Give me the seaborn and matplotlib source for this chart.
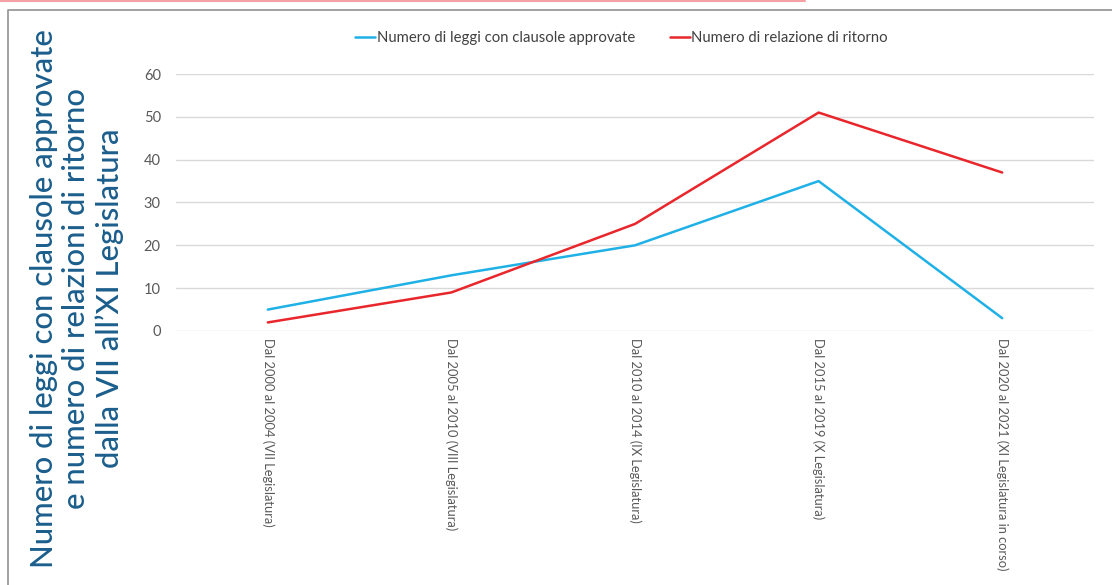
import matplotlib
matplotlib.use("Agg")
import matplotlib.pyplot as plt
from matplotlib.lines import Line2D
import pandas as pd
import seaborn as sns

# Legislative periods (x categories)
periodi = [
    "Dal 2000 al 2004 (VII Legislatura)",
    "Dal 2005 al 2010 (VIII Legislatura)",
    "Dal 2010 al 2014 (IX Legislatura)",
    "Dal 2015 al 2019 (X Legislatura)",
    "Dal 2020 al 2021 (XI Legislatura in corso)",
]
leggi_con_clausole = [5, 13, 20, 35, 3]
relazioni_di_ritorno = [2, 9, 25, 51, 37]

serie_leggi = "Numero di leggi con clausole approvate"
serie_relazioni = "Numero di relazione di ritorno"
y_ticks = [0, 10, 20, 30, 40, 50, 60]

titolo = ("Numero di leggi con clausole approvate\n"
          "e numero di relazioni di ritorno\n"
          "dalla VII all\u2019XI Legislatura")

df = pd.DataFrame({
    "periodo": periodi * 2,
    "valore": leggi_con_clausole + relazioni_di_ritorno,
    "serie": [serie_leggi] * len(periodi) + [serie_relazioni] * len(periodi),
})

sns.set_theme(style="white")
plt.rcParams["font.family"] = ["Lato", "DejaVu Sans"]

fig = plt.figure(figsize=(11.12, 5.85), dpi=100)
ax = fig.add_axes([0.1583, 0.4342, 0.8255, 0.4393])

palette = {serie_leggi: "#1fb1e6", serie_relazioni: "#e8262b"}
sns.lineplot(data=df, x="periodo", y="valore", hue="serie", palette=palette,
             sort=False, linewidth=1.8, ax=ax, legend=False)

ax.set_xlim(-0.5, len(periodi) - 0.5)
ax.set_ylim(0, 60)
ax.set_yticks(y_ticks)
ax.yaxis.grid(True, color="#d9d9d9", linewidth=1.0)
ax.set_axisbelow(True)
for s in ax.spines.values():
    s.set_visible(False)
ax.set_xlabel("")
ax.set_ylabel("")
ax.tick_params(axis="y", length=0, pad=11, labelsize=10.5, labelcolor="#595959")
ax.tick_params(axis="x", length=0, pad=5, labelsize=9.3, labelcolor="#595959")
for lbl in ax.get_xticklabels():
    lbl.set_rotation(-90)
    lbl.set_va("top")
    lbl.set_ha("center")

# Legend above the plot
handles = [Line2D([], [], color=palette[serie_leggi], linewidth=1.8),
           Line2D([], [], color=palette[serie_relazioni], linewidth=1.8)]
fig.legend(handles, [serie_leggi, serie_relazioni], loc="center",
           bbox_to_anchor=(0.559, 0.935), ncol=2, frameon=False,
           fontsize=10.7, handlelength=1.35, handletextpad=0.12,
           columnspacing=2.3, labelcolor="#404040")

# Vertical title on the left
fig.text(0.069, 0.49, titolo, rotation=90, ha="center", va="center",
         multialignment="center", fontsize=22.3, color="#1b5e8c",
         fontweight="medium", linespacing=1.2)

# Page decorations: accent line and frame
fig.add_artist(Line2D([0, 0.724], [0.999, 0.999], transform=fig.transFigure,
                      color="#f4a0a4", linewidth=1.5))
fig.add_artist(Line2D([0.0072, 0.0072, 1.0], [0.0, 0.983, 0.983],
                      transform=fig.transFigure, color="#9a9a9a", linewidth=1.3))

fig.savefig("out.png", dpi=100, facecolor="white")
